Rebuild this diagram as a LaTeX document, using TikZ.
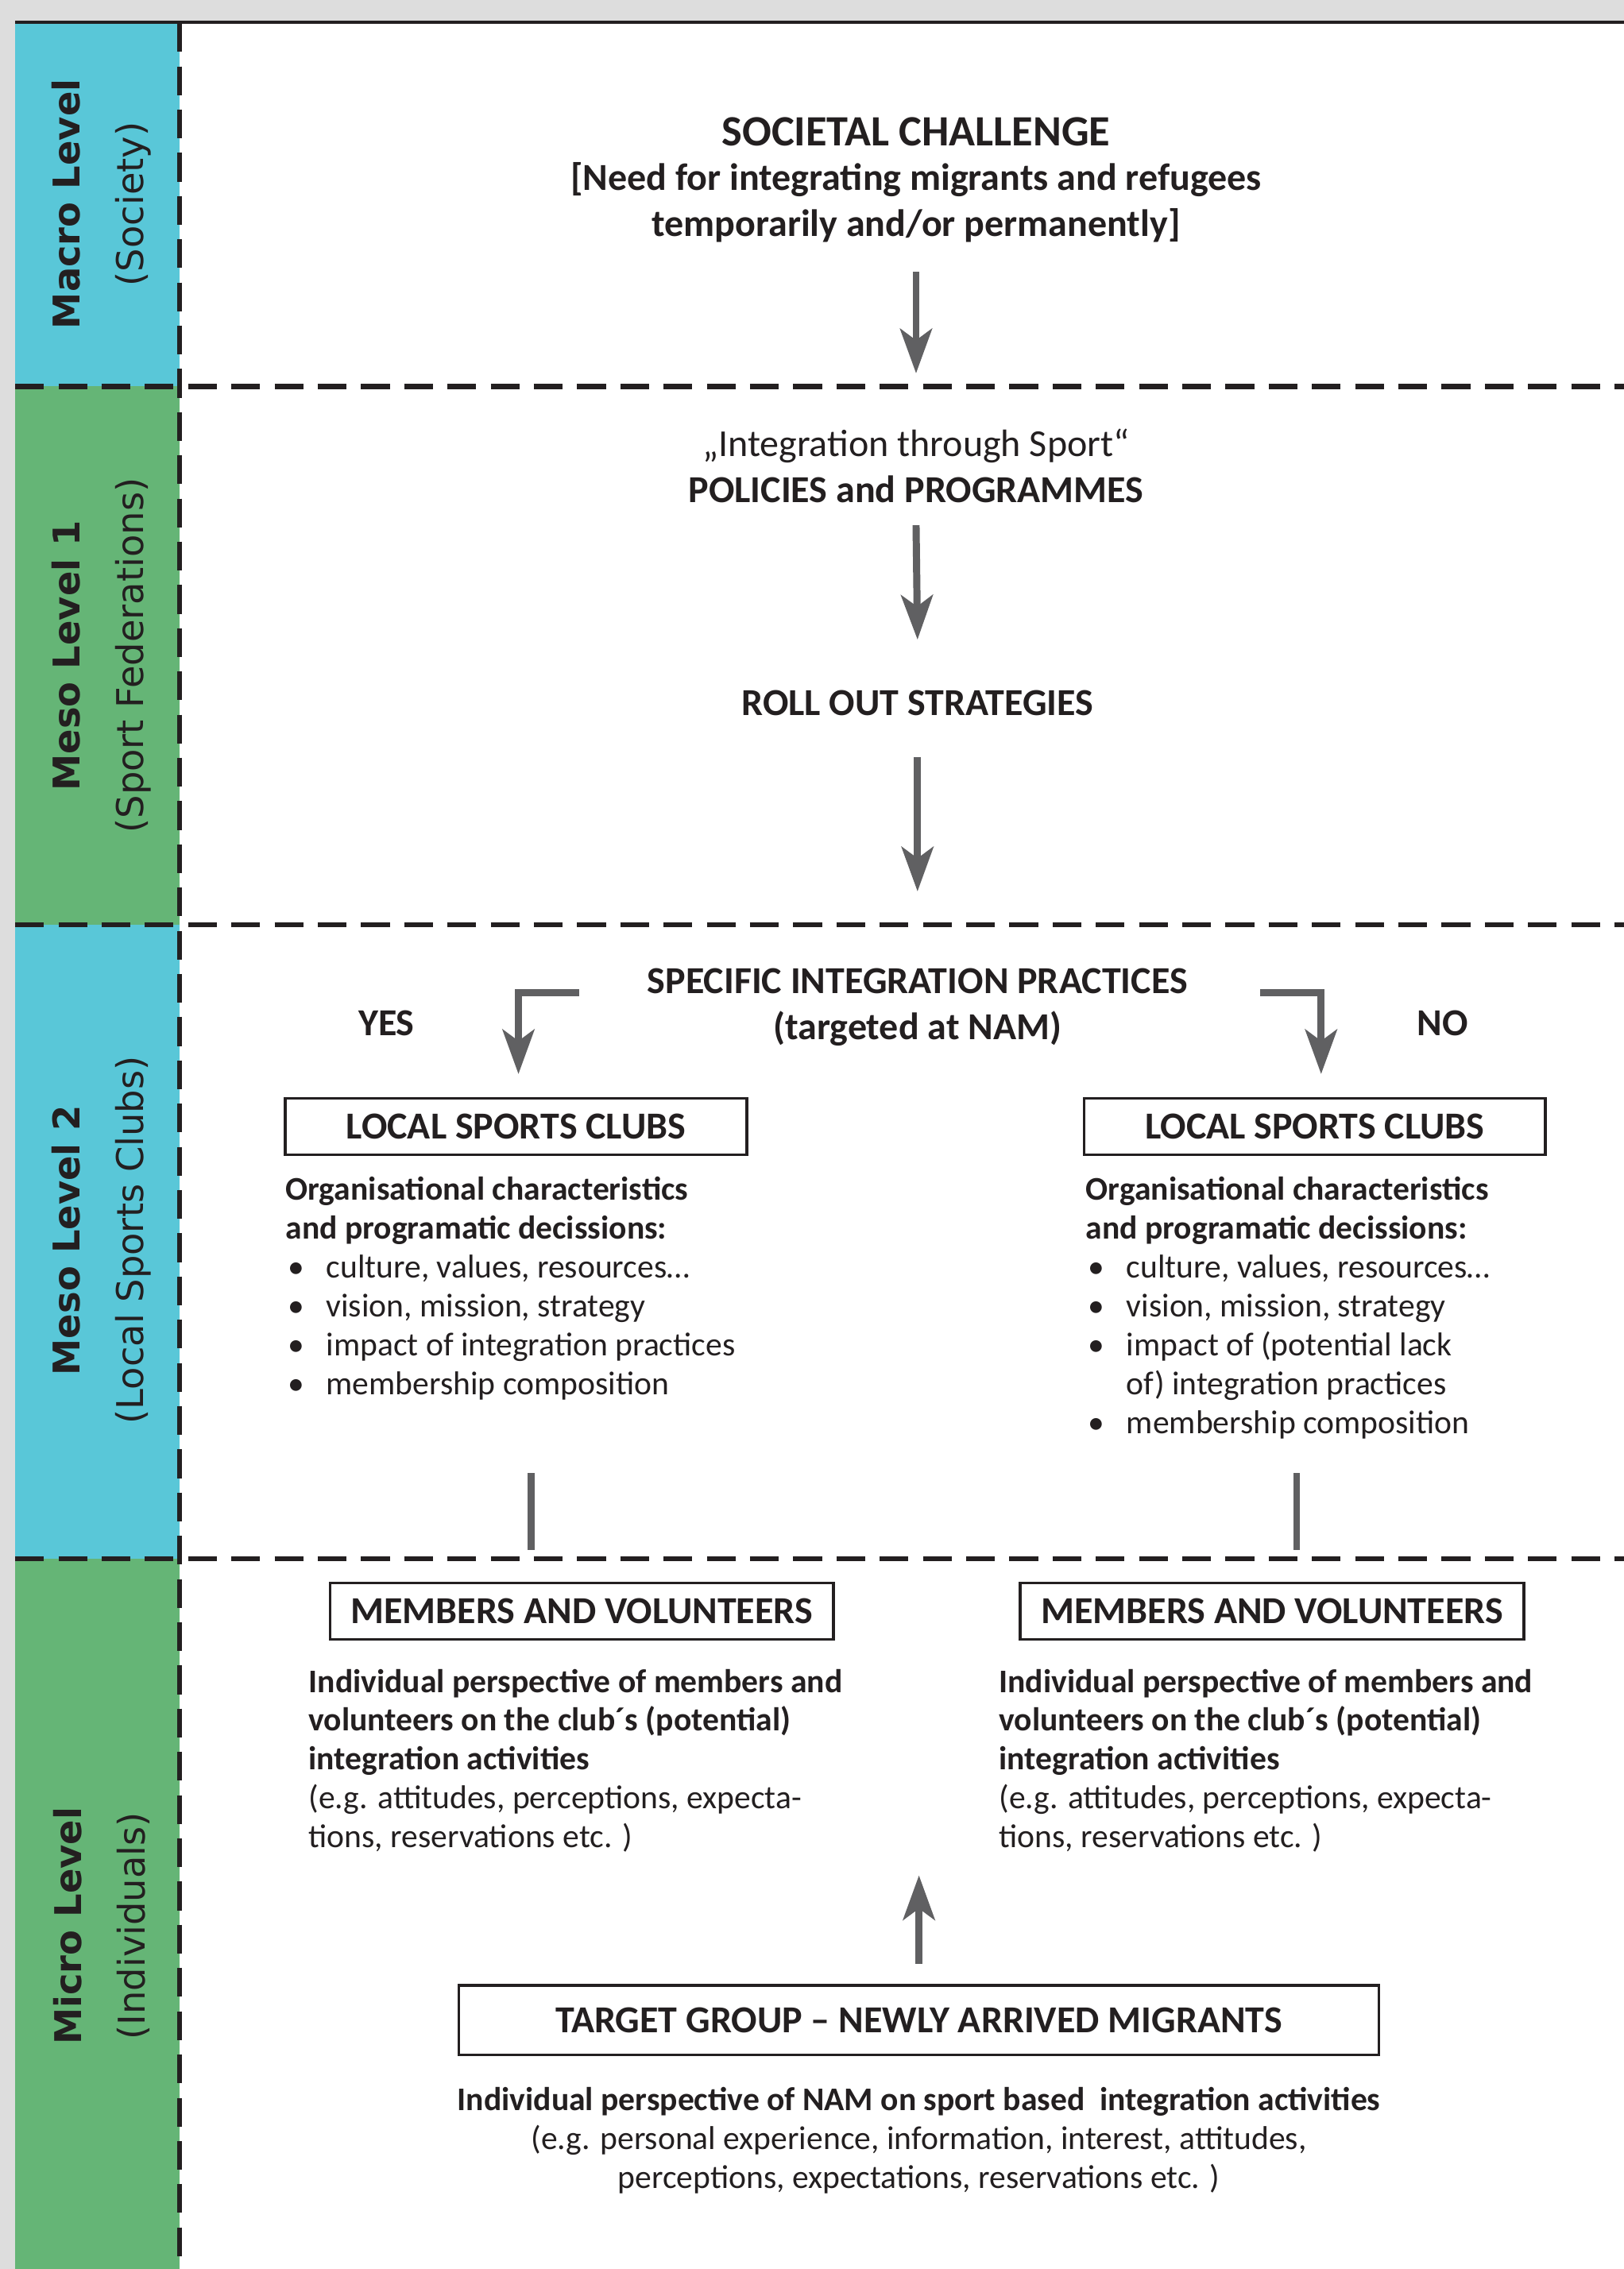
\documentclass[tikz,border=0pt]{standalone}
\usepackage{fontspec}
\setmainfont{Carlito}
\newfontfamily\sidefont{DejaVu Sans}
\usetikzlibrary{positioning}
\usetikzlibrary{arrows.meta}

\definecolor{pagegray}{RGB}{221,221,221}
\definecolor{levelblue}{RGB}{89,199,216}
\definecolor{levelgreen}{RGB}{101,181,118}
\definecolor{arrowgray}{RGB}{96,96,98}
\definecolor{ink}{RGB}{35,31,32}

\newcommand{\itm}{\makebox[16pt][l]{\hspace{1pt}\textbullet}}

\begin{document}
\begin{tikzpicture}
	[x=0.02cm, y=-0.02cm,
	sepline/.style={draw=ink, line width=2pt, dash pattern=on 11.3pt off 5.7pt},
	level/.style={rotate=90, align=center, text=ink, font=\sidefont\fontsize{14.5}{25}\selectfont},
	flow/.style={draw=arrowgray, line width=2.8pt, -{Stealth[length=17.5pt, width=12.5pt, inset=4.5pt]}},
	link/.style={draw=arrowgray, line width=2.6pt},
	head/.style={align=center, text=ink, font=\bfseries\fontsize{15}{18}\selectfont},
	frame/.style={draw=ink, line width=1.1pt, minimum height=0.78cm, text=ink, font=\bfseries\fontsize{15}{18}\selectfont},
	body/.style={align=left, text=ink, inner sep=0pt, font=\fontsize{13}{15.3}\selectfont}]
	\useasboundingbox (0,0) rectangle (1122,1568);
	\fill[pagegray] (0,0) rectangle (1122,1568);
	\fill[white] (10.5,16) rectangle (1122,1568);
	\fill[levelblue] (10.5,16) rectangle (124,267);
	\fill[levelgreen] (10.5,267) rectangle (124,639);
	\fill[levelblue] (10.5,639) rectangle (124,1077);
	\fill[levelgreen] (10.5,1077) rectangle (124,1568);
	\draw[ink, line width=1.2pt] (10.5,15.5) -- (1122,15.5);
	\draw[sepline] (10.5,267) -- (1122,267);
	\draw[sepline] (10.5,639) -- (1122,639);
	\draw[sepline] (10.5,1077) -- (1122,1077);
	\draw[sepline] (124,16) -- (124,1568);

	\node[level] (macro) at (70,141) {\textbf{Macro Level}\\(Society)};
	\node[level] (meso1) at (70,453) {\textbf{Meso Level 1}\\(Sport Federations)};
	\node[level] (meso2) at (70,857) {\textbf{Meso Level 2}\\(Local Sports Clubs)};
	\node[level] (micro) at (70,1331) {\textbf{Micro Level}\\(Individuals)};

	\node[head, font=\bfseries\fontsize{17}{20}\selectfont] (soc) at (633,91) {SOCIETAL CHALLENGE};
	\node[head] (need) at (633,140) {[Need for integrating migrants and refugees\\temporarily and/or permanently]};
	\node[head] (policy) at (633,322) {{\mdseries „Integration through Sport“}\\POLICIES and PROGRAMMES};
	\node[head] (roll) at (634,486) {ROLL OUT STRATEGIES};
	\node[head] (spec) at (634,696) {SPECIFIC INTEGRATION PRACTICES\\(targeted at NAM)};
	\node[head] (yes) at (267,707) {YES};
	\node[head] (no) at (997,707) {NO};
	\draw[flow] (need.south |- 0,188) -- (policy.north |- 0,258);
	\draw[flow] (policy.south |- 0,363) -- (roll.north |- 0,442);
	\draw[flow] (roll.south |- 0,523) -- (spec.north |- 0,616);

	\node[frame, minimum width=6.38cm] (club1) at (356.5,778.5) {LOCAL SPORTS CLUBS};
	\node[frame, minimum width=6.38cm] (club2) at (908.5,778.5) {LOCAL SPORTS CLUBS};
	\coordinate (yesfrom) at (400,686);
	\coordinate (nofrom) at (871,686);
	\draw[flow] (yesfrom) -| ([xshift=1pt, yshift=9pt]club1.north);
	\draw[flow] (nofrom) -| ([xshift=2.5pt, yshift=9pt]club2.north);

	\node[body, anchor=north west] (org1) at (197,813)
		{\textbf{Organisational characteristics}\\\textbf{and programatic decissions:}\\
		\itm culture, values, resources\dots\\\itm vision, mission, strategy\\
		\itm impact of integration practices\\\itm membership composition};
	\node[body, anchor=north west] (org2) at (750,813)
		{\textbf{Organisational characteristics}\\\textbf{and programatic decissions:}\\
		\itm culture, values, resources\dots\\\itm vision, mission, strategy\\
		\itm impact of (potential lack\\\hspace*{16pt}of) integration practices\\\itm membership composition};

	\node[frame, minimum width=6.96cm] (mem1) at (402,1113.5) {MEMBERS AND VOLUNTEERS};
	\node[frame, minimum width=6.96cm] (mem2) at (879,1113.5) {MEMBERS AND VOLUNTEERS};
	\coordinate (cut1) at (367,1018);
	\coordinate (cut2) at (896,1018);
	\draw[link, shorten >=12.5pt] (cut1) -- (cut1 |- mem1.north);
	\draw[link, shorten >=12.5pt] (cut2) -- (cut2 |- mem2.north);

	\node[body, anchor=north west] (view1) at (213,1153)
		{\textbf{Individual perspective of members and}\\\textbf{volunteers on the club´s (potential)}\\
		\textbf{integration activities}\\(e.g. attitudes, perceptions, expecta-\\tions, reservations etc. )};
	\node[body, anchor=north west] (view2) at (690,1153)
		{\textbf{Individual perspective of members and}\\\textbf{volunteers on the club´s (potential)}\\
		\textbf{integration activities}\\(e.g. attitudes, perceptions, expecta-\\tions, reservations etc. )};

	\node[frame, minimum width=12.72cm, minimum height=0.96cm] (target) at (635,1396) {TARGET GROUP – NEWLY ARRIVED MIGRANTS};
	\coordinate (uptip) at (634,1296);
	\draw[flow, shorten <=8pt] (target.north) -- (target.north |- uptip);
	\node[body, align=center, anchor=north] (namview) at (635,1442)
		{\textbf{Individual perspective of NAM on sport based\ \ integration activities}\\
		(e.g. personal experience, information, interest, attitudes,\\
		perceptions, expectations, reservations etc. )};
\end{tikzpicture}
\end{document}
